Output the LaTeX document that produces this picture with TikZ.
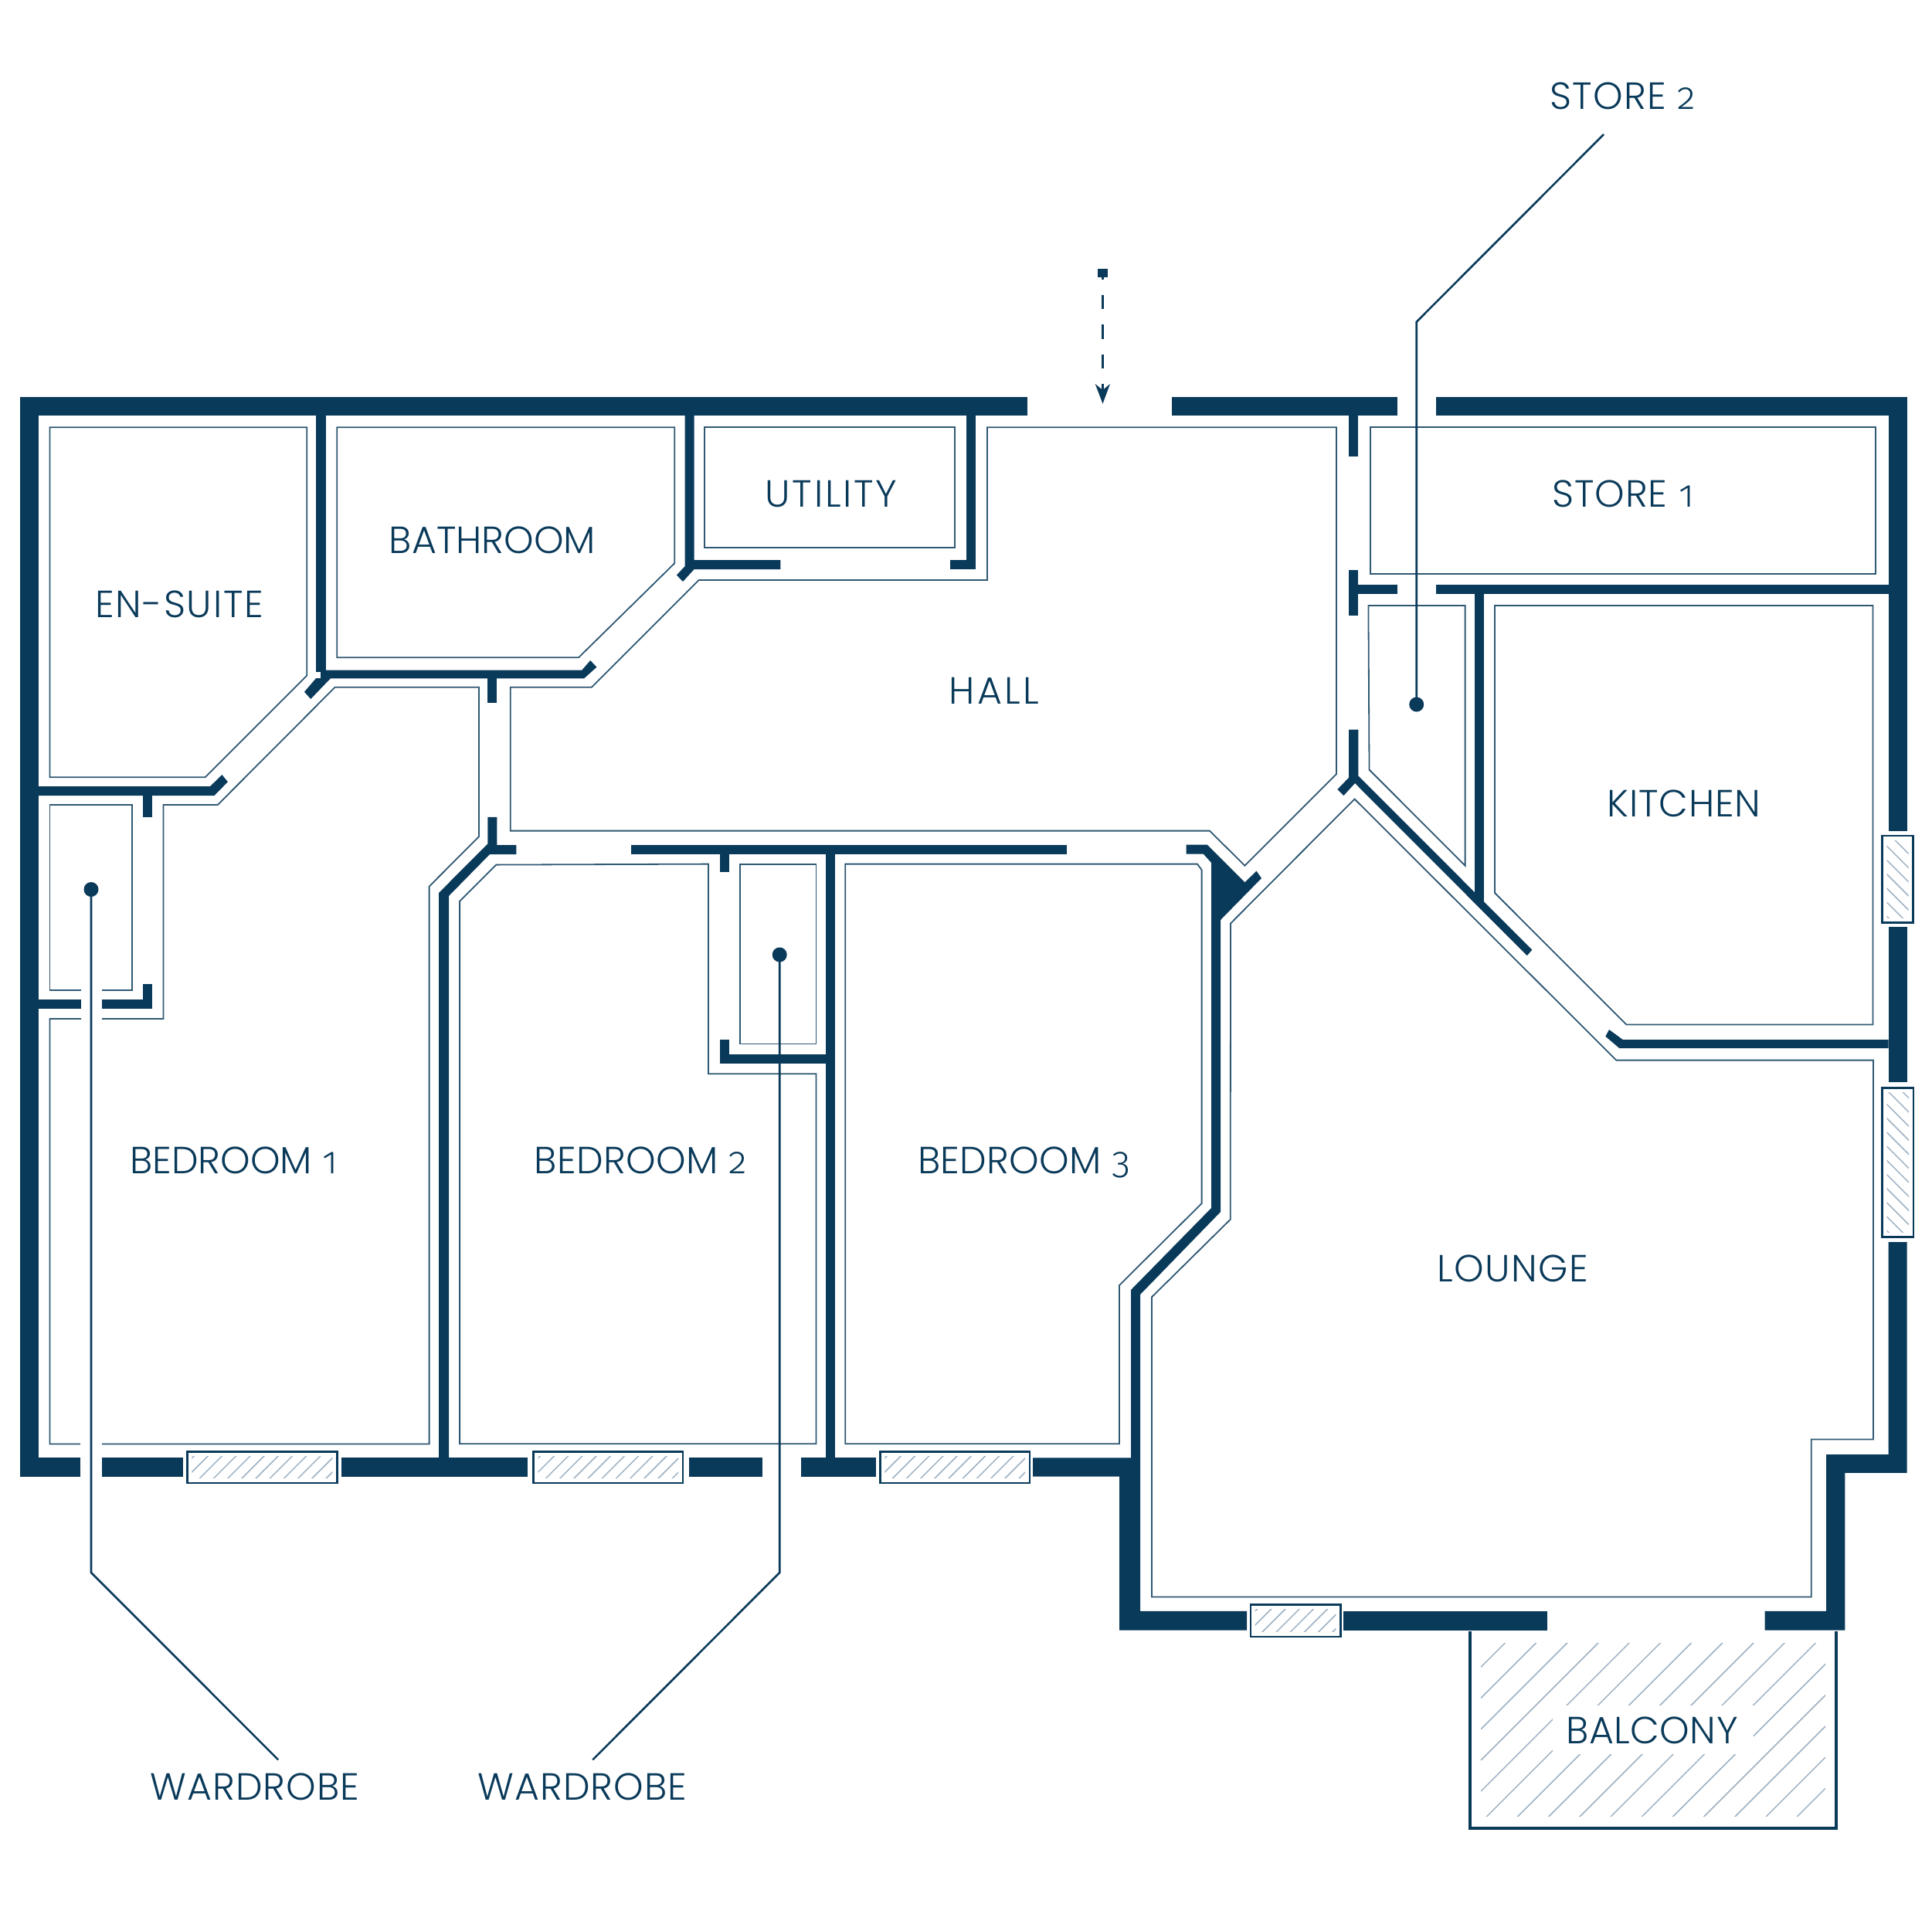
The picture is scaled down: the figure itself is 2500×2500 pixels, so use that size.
\documentclass[tikz,border=0pt]{standalone}
\usepackage{fontspec}
\setmainfont{Poppins}[UprightFont=* Light]
\newfontfamily\digitf{Fira Sans}[UprightFont=* Light,Numbers=OldStyle]
\definecolor{navy}{HTML}{0A3A5A}
\definecolor{hatchc}{HTML}{9DB1C2}
\tikzset{
 wall/.style={fill=navy},
 thinroom/.style={draw=navy!85!white,line width=1.8pt,line join=miter},
 leader/.style={draw=navy,line width=2.6pt},
 winframe/.style={draw=navy,line width=2.6pt,fill=white},
 hatchline/.style={draw=hatchc,line width=1.5pt},
 lab/.style={text=navy,font=\fontsize{49}{49}\selectfont,anchor=base,inner sep=0pt},
 dotmark/.style={fill=navy}
}
\newcommand{\winS}[4]{% "/" hatch
 \draw[winframe] (#1,#2) rectangle (#3,#4);
 \begin{scope}\clip (#1+6,#2+6) rectangle (#3-6,#4-6);
 \foreach \k in {0,...,15}{\pgfmathsetmacro\hs{#1+#2+14+18.2*\k}
  \draw[hatchline] (#1,\hs-#1) -- (#3,\hs-#3);}
 \end{scope}}
\newcommand{\winB}[4]{% "\" hatch
 \draw[winframe] (#1,#2) rectangle (#3,#4);
 \begin{scope}\clip (#1+6,#2+6) rectangle (#3-6,#4-6);
 \foreach \k in {0,...,15}{\pgfmathsetmacro\hs{#1-#4+14+18.2*\k}
  \draw[hatchline] (#1,#1-\hs) -- (#3,#3-\hs);}
 \end{scope}}
\newcommand{\dg}[1]{{\digitf #1}}
\newcommand{\lsp}[1]{\addfontfeatures{LetterSpace=#1}}
\begin{document}
\begin{tikzpicture}[x=1pt,y=-1pt]
\useasboundingbox (0,0) rectangle (2500,2500);
\fill[white] (0,0) rectangle (2500,2500);
% ---- thin room outlines
\draw[thinroom] (64.5,553.2)--(397.3,553.2)--(397.3,874.6)--(265.6,1006.3)--(64.5,1006.3)--cycle;
\draw[thinroom] (436.3,553.2)--(873.2,553.2)--(873.2,729.3)--(749,851.3)--(436.3,851.3)--cycle;
\draw[thinroom] (912.2,553.2) rectangle (1235.8,709.3);
\draw[thinroom] (660.7,889.8)--(765.9,889.8)--(904.6,751)--(1278,751)--(1278,553.2)--(1730,553.2)--(1730,1002)--(1611.4,1120.7)--(1565.9,1075.6)--(660.7,1075.6)--cycle;
\draw[thinroom] (1773.6,553.2) rectangle (2428.3,742.9);
\draw[thinroom] (1771.4,784)--(1896.6,784)--(1896.6,1120.7)--(1772.5,996.5)--cycle;
\draw[thinroom] (1935,784)--(2424.5,784)--(2424.5,1326.5)--(2105.3,1326.5)--(1935,1156)--cycle;
\draw[thinroom] (64.5,1042) rectangle (171.3,1281.6);
\draw[thinroom] (64.5,1319)--(211.4,1319)--(211.4,1042)--(281.8,1042)--(433.6,889.8)--(620,889.8)--(620,1083)--(555.6,1147.7)--(555.6,1869.4)--(64.5,1869.4)--cycle;
\draw[thinroom] (595.1,1166.7)--(642.3,1119.6)--(917,1118.6)--(917,1390.3)--(1056.4,1390.3)--(1056.4,1869.3)--(595.1,1869.3)--cycle;
\draw[thinroom] (958.3,1118.6) rectangle (1056.4,1351.4);
\draw[thinroom] (1094.3,1118.6)--(1550,1118.6)--(1555.6,1126.3)--(1555.6,1558)--(1449,1664)--(1449,1869.3)--(1094.3,1869.3)--cycle;
\draw[thinroom] (1753.5,1034.5)--(2092.3,1372.6)--(2425,1372.6)--(2425,1863.5)--(2344.8,1863.5)--(2344.8,2067.4)--(1490.9,2067.4)--(1490.9,1679.3)--(1592.7,1578.8)--(1593,1195.5)--cycle;
% ---- outer walls
\fill[wall] (25.5,513.6) rectangle (1330,538);
\fill[wall] (1517,513.6) rectangle (1809.3,538);
\fill[wall] (1858.7,513.6) rectangle (2468.5,538);
\fill[wall] (25.5,513.6) rectangle (50,1911.7);
\fill[wall] (2444.6,513.6) rectangle (2468.5,1076);
\fill[wall] (2444.6,1199.8) rectangle (2468.5,1401);
\fill[wall] (2444.6,1608)--(2444.6,1883)--(2364,1883)--(2364,2085.8)--(2284.6,2085.8)--(2284.6,2110.7)--(2388.4,2110.7)--(2388.4,1906.8)--(2468.5,1906.8)--(2468.5,1608)--cycle;
% bottom wall segments
\fill[wall] (25.5,1887.3) rectangle (104,1911.7);
\fill[wall] (131,1887.3) rectangle (236.9,1911.7);
\fill[wall] (442.3,1887.3) rectangle (682.9,1911.7);
\fill[wall] (891.6,1887.3) rectangle (987,1911.7);
\fill[wall] (1036.9,1887.3) rectangle (1133.9,1911.7);
\fill[wall] (1739.3,2085.8) rectangle (2002.6,2110.7);
% big lounge / bedroom 3 wall with wedge
\fill[wall] (1535.5,1093.5)--(1562.6,1093.5)--(1611.4,1142.3)--(1626.5,1127.7)--(1633,1137)--(1580,1191)--(1580,1569)--(1476,1676)--(1476,2085.8)--(1614.1,2085.8)--(1614.1,2110.7)--(1449,2110.7)--(1449,1911.7)--(1337,1911.7)--(1337,1887.3)--(1464,1887.3)--(1464,1670)--(1568,1564)--(1568,1116.9)--(1557.7,1105.5)--(1535.5,1105.5)--cycle;
% ---- partitions
\fill[wall] (409.2,538) rectangle (421.7,870);
\fill[wall] (415,867.5)--(753.4,867.5)--(764.2,855)--(772.4,863.7)--(756,878.4)--(415,878.4)--cycle;
\fill[wall] (409.2,878)--(394,895.7)--(402.2,905)--(428.2,878)--cycle;
\fill[wall] (50,1018.2)--(272,1018.2)--(287.3,1003)--(294.9,1012.2)--(277.5,1030)--(50,1030)--cycle;
\fill[wall] (184.8,1030) rectangle (196.7,1058.3);
\fill[wall] (50,1294) rectangle (196.7,1306);
\fill[wall] (184.8,1274) rectangle (196.7,1306);
\fill[wall] (568.1,1887.3)--(568.1,1155.9)--(631.4,1092.5)--(631.4,1057.8)--(643.4,1057.8)--(643.4,1094)--(668.3,1094)--(668.3,1106)--(634,1106)--(581,1160)--(581,1887.3)--cycle;
\fill[wall] (631.4,878) rectangle (643.4,910);
\fill[wall] (886.7,538)--(898.6,538)--(898.6,725)--(1010.3,725)--(1010.3,737)--(898.6,737)--(884,753)--(875.9,744.5)--(886.7,733)--cycle;
\fill[wall] (1251,538) rectangle (1263,737);
\fill[wall] (1229.8,725) rectangle (1263,737);
\fill[wall] (816.8,1093.5) rectangle (1380.5,1105.5);
\fill[wall] (932,1100) rectangle (944,1129);
\fill[wall] (1068.8,1100) rectangle (1080.8,1887.3);
\fill[wall] (932,1345.7) rectangle (944,1377);
\fill[wall] (932,1364.8) rectangle (1070,1377);
\fill[wall] (1746,538) rectangle (1758.4,591);
\fill[wall] (1746,737.5) rectangle (1758.4,796.5);
\fill[wall] (1758,757) rectangle (1809.3,769);
\fill[wall] (1858.7,757) rectangle (2444.6,769);
\fill[wall] (1908.5,769) rectangle (1920.5,1167);
\fill[wall] (1746,944.5)--(1758.4,944.5)--(1758.4,1004.6)--(1983.3,1229.6)--(1976.8,1237.2)--(1754,1014)--(1739.4,1030)--(1731.3,1022)--(1746,1006.8)--cycle;
\fill[wall] (2083,1333)--(2078.3,1341.8)--(2096.4,1357.2)--(2444.6,1357.2)--(2444.6,1346.2)--(2101,1346.2)--cycle;
% ---- white gaps around the bedroom 1 wardrobe leader
\fill[white] (105,1272) rectangle (132,1325);
\fill[white] (104,1862) rectangle (132,1915);
% ---- windows
\winS{242.3}{1879.7}{436.3}{1919.8}
\winS{690.5}{1879.7}{884}{1919.8}
\winS{1139.3}{1879.7}{1332.8}{1919.8}
\winS{1618.8}{2077.7}{1735.3}{2118.8}
\winB{2436.5}{1082}{2476.6}{1194.4}
\winB{2436.6}{1408.6}{2476.8}{1601.5}
% ---- balcony
\begin{scope}
\clip (1917,2127.6) rectangle (2363,2351);
\foreach \k in {0,...,15}{\pgfmathsetmacro\hs{4075.3+40.2*\k}
 \draw[hatchline] (1917,\hs-1917) -- (2363,\hs-2363);}
\end{scope}
\fill[white] (2010,2207.5) rectangle (2270,2270.6);
\coordinate (bA) at (1903,2112);
\coordinate (bB) at (1903,2367);
\coordinate (bC) at (2377,2367);
\coordinate (bD) at (2377,2112);
\draw[navy,line width=4.5pt] (bA)--(bB)--(bC)--(bD);
% ---- labels
\node[lab] (ensuite) at (232,799.8) {\lsp{3.6}EN-SUITE};
\node[lab] (bath) at (637.5,716) {BATHROOM};
\node[lab] (util) at (1076,656) {\lsp{5.5}UTILITY};
\node[lab] (hall) at (1287,911) {\lsp{7}HALL};
\node[lab] (st1) at (2101,656) {\lsp{2}STORE \dg{1}};
\node[lab] (kit) at (2180,1057) {\lsp{1.5}KITCHEN};
\node[lab] (bd1) at (303,1519.8) {BEDROOM \dg{1}};
\node[lab] (bd2) at (829.5,1519.8) {\lsp{1}BEDROOM \dg{2}};
\node[lab] (bd3) at (1325.5,1519) {\lsp{0.5}BEDROOM \dg{3}};
\node[lab] (lounge) at (1958.3,1659.5) {\lsp{2.8}LOUNGE};
\node[lab] (balc) at (2138.5,2257.5) {\lsp{1}BALCONY};
\node[lab] (st2) at (2101,141) {\lsp{2.5}STORE \dg{2}};
\node[lab] (wr1) at (329.8,2330.7) {\lsp{2.3}WARDROBE};
\node[lab] (wr2) at (754,2330.7) {\lsp{2.3}WARDROBE};
% ---- leaders
\coordinate (d1) at (118,1151.5);
\coordinate (k1) at (118,2036);
\coordinate (e1) at (360.2,2278.3);
\coordinate (d2) at (1009.2,1236);
\coordinate (k2) at (1009.2,2036);
\coordinate (e2) at (767.3,2278.3);
\coordinate (d3) at (1833.7,912);
\coordinate (k3) at (1833.7,416.7);
\coordinate (e3) at (2076,174);
\draw[leader] (d1)--(k1)--(e1);
\draw[leader] (d2)--(k2)--(e2);
\draw[leader] (d3)--(k3)--(e3);
\fill[dotmark] (d1) circle (9.5);
\fill[dotmark] (d2) circle (9.5);
\fill[dotmark] (d3) circle (9.5);
% ---- entrance arrow
\coordinate (a0) at (1427.5,359);
\coordinate (a1) at (1427.5,381.7);
\coordinate (a2) at (1427.5,477.3);
\coordinate (a3) at (1427.5,496.7);
\coordinate (a4) at (1427.5,510);
\fill[wall] (1421,348) rectangle (1433.8,359.3);
\draw[navy,line width=2.4pt] (a0)--++(0,3);
\draw[navy,line width=2.4pt,dash pattern=on 18.6pt off 20pt] (a1)--(a2);
\draw[navy,line width=2.4pt] (a3)--(a4);
\fill[navy] (1427.5,522.7)--(1417.7,497)--(1427.5,505)--(1437,497)--cycle;
\end{tikzpicture}
\end{document}
